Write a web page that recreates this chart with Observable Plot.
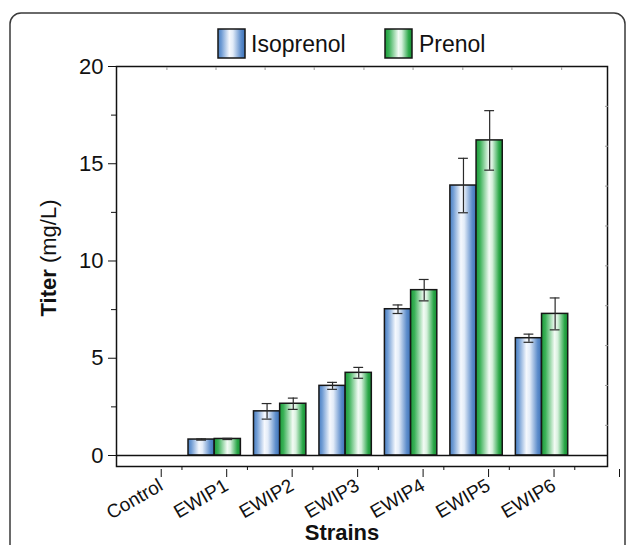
<!DOCTYPE html>
<html>
<head>
<meta charset="utf-8">
<script src="https://cdn.jsdelivr.net/npm/d3@7"></script>
<script src="https://cdn.jsdelivr.net/npm/@observablehq/plot@0.6"></script>
<style>
  html, body { margin: 0; padding: 0; background: #fff; }
  #chart { width: 628px; height: 545px; overflow: hidden; }
  svg { display: block; }
</style>
</head>
<body>
<div id="chart"></div>
<script>
// ---- data ----
const strains = ["Control", "EWIP1", "EWIP2", "EWIP3", "EWIP4", "EWIP5", "EWIP6"];
const isoprenol = [0, 0.82, 2.27, 3.58, 7.52, 13.88, 6.03];
const isoprenolErr = [0, 0.03, 0.40, 0.18, 0.22, 1.40, 0.21];
const prenol = [0, 0.85, 2.66, 4.25, 8.50, 16.20, 7.28];
const prenolErr = [0, 0.03, 0.29, 0.28, 0.55, 1.53, 0.82];
const seriesNames = ["Isoprenol", "Prenol"];
const yTicks = [0, 5, 10, 15, 20];
const yMinorTicks = [2.5, 7.5, 12.5, 17.5];
const xTicks = [1, 2, 3, 4, 5, 6, 7, 8];
const xMinorTicks = [1.5, 2.5, 3.5, 4.5, 5.5, 6.5, 7.5];
const topFaintTicks = [1.27, 2.02, 2.77, 3.52, 4.28, 5.03, 5.79, 6.54, 7.3];
const rightFaintTicks = [1.55, 3.6, 5.65, 7.7, 9.75, 11.8, 13.85, 15.9, 17.95];

// ---- table ----
const rows = [];
strains.forEach((s, i) => {
  rows.push({strain: s, pos: i + 1, series: "Isoprenol", value: isoprenol[i], err: isoprenolErr[i], off: -0.4});
  rows.push({strain: s, pos: i + 1, series: "Prenol", value: prenol[i], err: prenolErr[i], off: 0});
});
const barW = 0.4;
const capW = 0.075;
const errRows = rows.filter(d => d.value > 0);

const FONT = "'Liberation Sans', Arial, Helvetica, sans-serif";

const gradients = () => {
  const defs = d3.create("svg:defs");
  const g1 = defs.append("linearGradient").attr("id", "gBlue").attr("x1", 0).attr("x2", 1).attr("y1", 0).attr("y2", 0);
  [[0, "#4b80c3"], [0.12, "#6d9ad3"], [0.42, "#f5f8fd"], [0.55, "#e3ecf8"], [0.85, "#5d8dcb"], [1, "#3c71b7"]]
    .forEach(([o, c]) => g1.append("stop").attr("offset", o).attr("stop-color", c));
  const g2 = defs.append("linearGradient").attr("id", "gGreen").attr("x1", 0).attr("x2", 1).attr("y1", 0).attr("y2", 0);
  [[0, "#1b9b39"], [0.15, "#3cb259"], [0.5, "#f3fbf5"], [0.62, "#d5f0dc"], [0.88, "#2aa748"], [1, "#178f33"]]
    .forEach(([o, c]) => g2.append("stop").attr("offset", o).attr("stop-color", c));
  return defs.node();
};

const chart = Plot.plot({
  width: 628,
  height: 545,
  marginLeft: 116,
  marginRight: 21,
  marginTop: 66,
  marginBottom: 79,
  style: {fontFamily: FONT, color: "#111", background: "#fff"},
  x: {type: "linear", domain: [0.5, 8]},
  y: {domain: [-0.566, 20]},
  marks: [
    gradients,
    Plot.rectY(rows, {
      x1: d => d.pos + d.off,
      x2: d => d.pos + d.off + barW,
      y1: 0,
      y2: "value",
      fill: d => d.series === "Isoprenol" ? "url(#gBlue)" : "url(#gGreen)",
      stroke: "#161616",
      strokeWidth: 1.5
    }),
    Plot.ruleX(errRows, {x: d => d.pos + d.off + barW / 2, y1: d => d.value - d.err, y2: d => d.value + d.err, stroke: "#2a2a2a", strokeWidth: 1.2}),
    Plot.ruleY(errRows, {y: d => d.value + d.err, x1: d => d.pos + d.off + barW / 2 - capW, x2: d => d.pos + d.off + barW / 2 + capW, stroke: "#2a2a2a", strokeWidth: 1.2}),
    Plot.ruleY(errRows, {y: d => d.value - d.err, x1: d => d.pos + d.off + barW / 2 - capW, x2: d => d.pos + d.off + barW / 2 + capW, stroke: "#2a2a2a", strokeWidth: 1.2}),
    Plot.ruleY([0], {stroke: "#111", strokeWidth: 1.5}),
    Plot.frame({stroke: "#111", strokeWidth: 1.5}),
    Plot.axisY({ticks: yTicks, tickSize: 8, tickPadding: 5, fontSize: 22, label: null, stroke: "#111"}),
    Plot.axisY({ticks: yMinorTicks, tickSize: 5, tickFormat: () => "", label: null, stroke: "#111"}),
    Plot.axisY({anchor: "right", ticks: rightFaintTicks, tickSize: 3, dx: -3, tickFormat: () => "", label: null, stroke: "#9a9a9a"}),
    Plot.axisX({ticks: xTicks, tickSize: 8, tickRotate: -30, fontSize: 19, dx: 12, dy: 3, label: null, stroke: "#111",
      tickFormat: d => strains[d - 1] ?? ""}),
    Plot.axisX({ticks: xMinorTicks, tickSize: 4, tickFormat: () => "", label: null, stroke: "#111"}),
    Plot.axisX({anchor: "top", ticks: topFaintTicks, tickSize: 3, dy: 3, tickFormat: () => "", label: null, stroke: "#9a9a9a"})
  ]
});

const svg = d3.select(chart);
svg.selectAll('g[aria-label="y-axis tick label"]').attr("font-size", 22);
svg.selectAll('g[aria-label="y-axis tick label"] text').attr("font-size", 22);
svg.selectAll('g[aria-label="x-axis tick label"]').attr("font-size", 19);
svg.selectAll('g[aria-label="x-axis tick label"] text').attr("font-size", 19);

// outer rounded panel border
svg.insert("rect", ":first-child")
  .attr("x", 10).attr("y", 13).attr("width", 615).attr("height", 620)
  .attr("rx", 11).attr("fill", "none").attr("stroke", "#3a3a3a").attr("stroke-width", 1.5);

// legend
const legend = svg.append("g").attr("font-family", FONT).attr("font-size", 23).attr("fill", "#111").attr("text-anchor", "start");
const legendItems = [
  {name: seriesNames[0], fill: "url(#gBlue)", x: 218, tx: 251},
  {name: seriesNames[1], fill: "url(#gGreen)", x: 385, tx: 419}
];
legendItems.forEach(it => {
  legend.append("rect").attr("x", it.x).attr("y", 29).attr("width", 27).attr("height", 29)
    .attr("fill", it.fill).attr("stroke", "#161616").attr("stroke-width", 1.5);
  legend.append("text").attr("x", it.tx).attr("y", 52).attr("text-anchor", "start").text(it.name);
});

// y axis title
const yt = svg.append("text")
  .attr("transform", "translate(56,258) rotate(-90)")
  .attr("text-anchor", "middle")
  .attr("font-family", FONT).attr("font-size", 22).attr("fill", "#111");
yt.append("tspan").attr("font-weight", "bold").text("Titer");
yt.append("tspan").text(" (mg/L)");

// x axis title
svg.append("text")
  .attr("x", 342).attr("y", 540)
  .attr("text-anchor", "middle")
  .attr("font-family", FONT).attr("font-size", 22).attr("font-weight", "bold").attr("fill", "#111")
  .text("Strains");

document.getElementById("chart").appendChild(chart);
</script>
</body>
</html>
